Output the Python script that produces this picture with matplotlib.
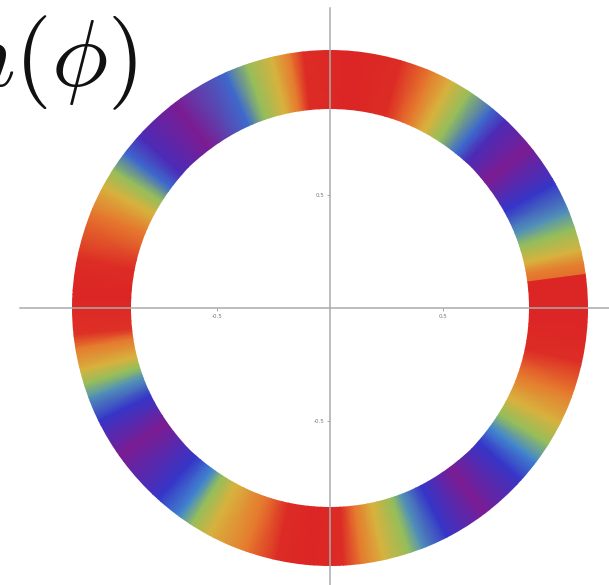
import numpy as np
import matplotlib
matplotlib.use('Agg')
import matplotlib.pyplot as plt
from matplotlib.colors import LinearSegmentedColormap
from matplotlib.patches import Wedge

plt.rcParams['mathtext.fontset'] = 'cm'

# angle (deg) around the ring and the value of n there (0 = min, 1 = max)
phi_deg = [7.5, 10, 13, 18, 22, 29, 39, 47, 51, 57, 62, 67, 74, 85, 96, 99,
           103, 109, 114, 127, 138, 143, 147.6, 152, 158, 169, 177, 186, 189,
           194, 197.4, 200.5, 206, 215, 228, 234, 237.3, 242, 251, 258, 265.5,
           273, 277, 282, 288, 291, 297, 307, 318, 323.3, 328, 333.3, 340.5,
           348, 358, 367.5]
n_val = [0.82, 0.78, 0.65, 0.5, 0.38, 0.2, 0.0, 0.15, 0.3, 0.5, 0.65, 0.8,
         0.97, 1.0, 0.97, 0.8, 0.65, 0.5, 0.3, 0.0, 0.15, 0.3, 0.5, 0.65, 0.8,
         0.97, 1.0, 0.95, 0.8, 0.65, 0.5, 0.38, 0.2, 0.0, 0.2, 0.35, 0.5,
         0.65, 0.8, 0.97, 1.0, 0.97, 0.8, 0.65, 0.5, 0.38, 0.2, 0.0, 0.2,
         0.35, 0.5, 0.65, 0.8, 0.97, 1.0, 1.0]

r_in, r_out = 0.88, 1.14
ticks = [-0.5, 0.5]
tick_labels = ['-0.5', '0.5']

rainbow = LinearSegmentedColormap.from_list('rainbow_m', [
    (0.00, '#7c1c92'),
    (0.08, '#6a1fa0'),
    (0.20, '#3636c8'),
    (0.35, '#4286cf'),
    (0.50, '#93be5c'),
    (0.65, '#d8b23e'),
    (0.80, '#e6792e'),
    (0.92, '#de3a27'),
    (1.00, '#dc2525'),
])

W, H = 609, 585
fig = plt.figure(figsize=(W / 100, H / 100), dpi=100)
scale = 226.0  # px per unit
cx, cy = 330, 308
left_px, top_px = 20, 8
ax = fig.add_axes([left_px / W, 0, 1 - left_px / W, 1 - top_px / H])
ax.set_xlim((left_px - cx) / scale, (W - cx) / scale)
ax.set_ylim(-(H - cy) / scale, (cy - top_px) / scale)

# ring as a gouraud-shaded mesh, clipped to the exact annulus
phi = np.radians(phi_deg)
rr = np.array([r_in * 0.9, r_out * 1.05])
X = rr[:, None] * np.cos(phi)[None, :]
Y = rr[:, None] * np.sin(phi)[None, :]
C = np.vstack([n_val, n_val])
mesh = ax.pcolormesh(X, Y, C, cmap=rainbow, vmin=0, vmax=1, shading='gouraud',
                     zorder=1)
ring = Wedge((0, 0), r_out, 0, 360, width=r_out - r_in, transform=ax.transData)
mesh.set_clip_path(ring)

# axes through the origin
for s in ['top', 'right']:
    ax.spines[s].set_visible(False)
for s in ['left', 'bottom']:
    ax.spines[s].set_position('zero')
    ax.spines[s].set_color('#ababab')
    ax.spines[s].set_linewidth(1.1)
    ax.spines[s].set_zorder(2)
ax.set_xticks(ticks)
ax.set_yticks(ticks)
ax.set_xticklabels(tick_labels)
ax.set_yticklabels(tick_labels)
ax.tick_params(length=2, width=0.6, color='#999999', labelsize=4,
               labelcolor='#777777', pad=2)
ax.set_aspect('equal', adjustable='datalim')
ax.set_facecolor('none')

fig.text(137 / W, 1 - 86 / H, r'$n(\phi)$', fontsize=68, ha='right',
         va='baseline', color='#111111')

fig.savefig('out.png', dpi=100, facecolor='white')
